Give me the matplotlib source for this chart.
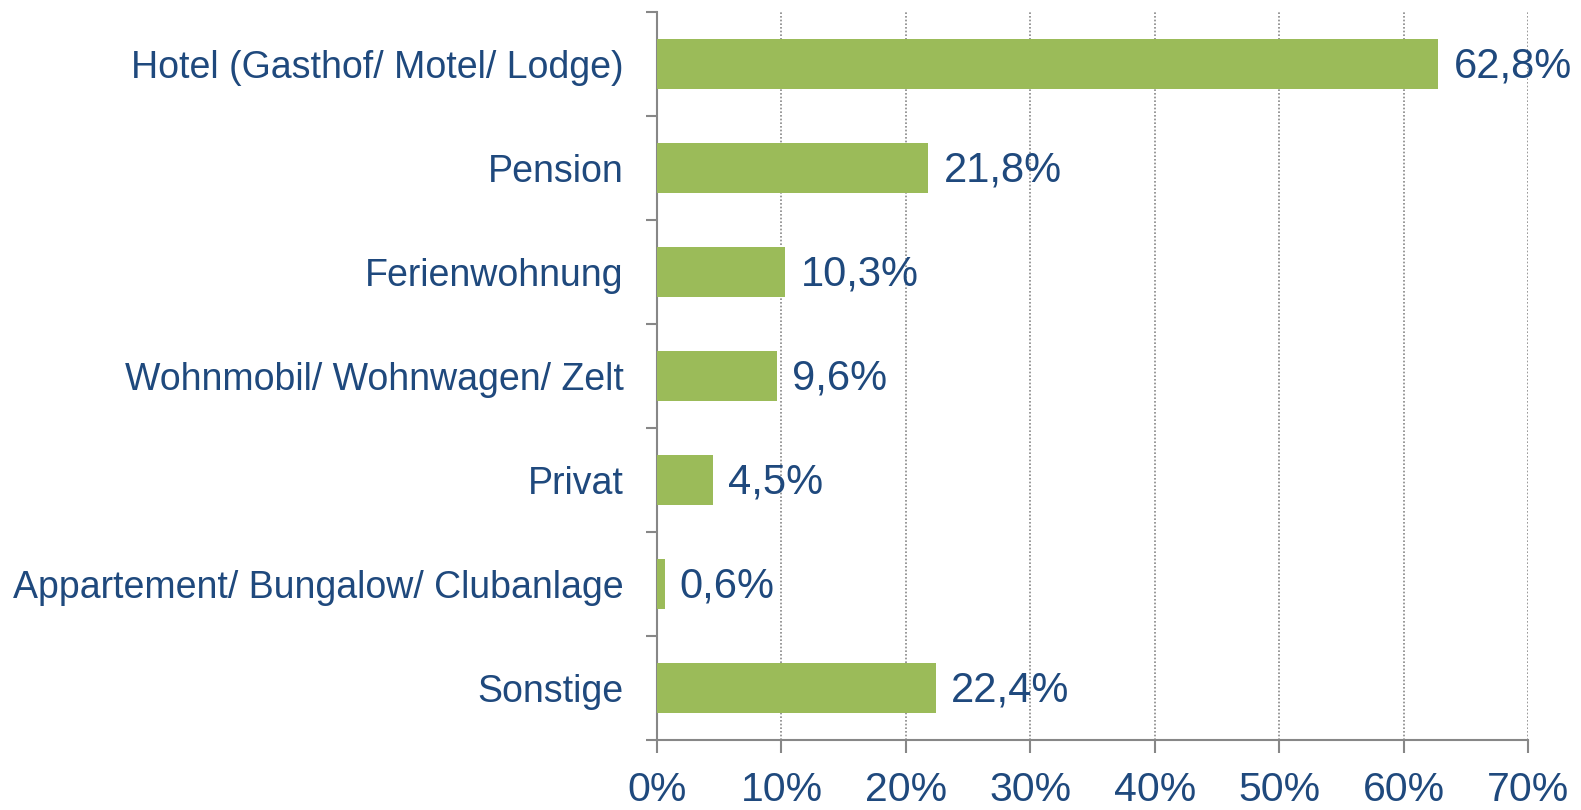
import matplotlib
matplotlib.use("Agg")
import matplotlib.pyplot as plt
import numpy as np

categories = ["Hotel (Gasthof/ Motel/ Lodge)", "Pension", "Ferienwohnung",
              "Wohnmobil/ Wohnwagen/ Zelt", "Privat",
              "Appartement/ Bungalow/ Clubanlage", "Sonstige"]
values = [62.8, 21.8, 10.3, 9.6, 4.5, 0.6, 22.4]
value_labels = ["62,8%", "21,8%", "10,3%", "9,6%", "4,5%", "0,6%", "22,4%"]
xticks = [0, 10, 20, 30, 40, 50, 60, 70]
xtick_labels = ["0%", "10%", "20%", "30%", "40%", "50%", "60%", "70%"]

plt.rcParams['font.family'] = ['Liberation Sans', 'DejaVu Sans']
text_color = "#1F497D"
bar_color = "#9BBB59"
axis_color = "#878787"

fig = plt.figure(figsize=(15.81, 8.10), dpi=100)
ax = fig.add_axes([0.4156, 0.0864, 0.5509, 0.8988])

y = np.arange(len(categories))
ax.barh(y, values, height=0.49, color=bar_color, zorder=3)

for yi, v, lab in zip(y, values, value_labels):
    ax.annotate(lab, xy=(v, yi), xytext=(11, -2), textcoords="offset points",
                va="center", ha="left", fontsize=30, color=text_color)

ax.set_xlim(0, 70)
ax.set_ylim(len(categories) - 0.5, -0.5)

ax.set_xticks(xticks)
ax.set_xticklabels(xtick_labels, fontsize=29.5, color=text_color)
ax.set_yticks(y)
ax.set_yticklabels(categories, fontsize=27, color=text_color)
ax.set_yticks(np.arange(-0.5, len(categories), 1.0), minor=True)

ax.tick_params(axis="y", which="major", length=0, pad=24)
ax.tick_params(axis="y", which="minor", length=8, width=1.5, color=axis_color, direction="out")
ax.tick_params(axis="x", which="major", length=9, width=1.5, color=axis_color, direction="out", pad=13)

for s in ["top", "right"]:
    ax.spines[s].set_visible(False)
for s in ["left", "bottom"]:
    ax.spines[s].set_color(axis_color)
    ax.spines[s].set_linewidth(1.5)

ax.xaxis.grid(True, linestyle=(0, (1, 1.2)), color="#888888", linewidth=1.2, zorder=0)
ax.set_axisbelow(True)

fig.savefig("out.png", dpi=100)
